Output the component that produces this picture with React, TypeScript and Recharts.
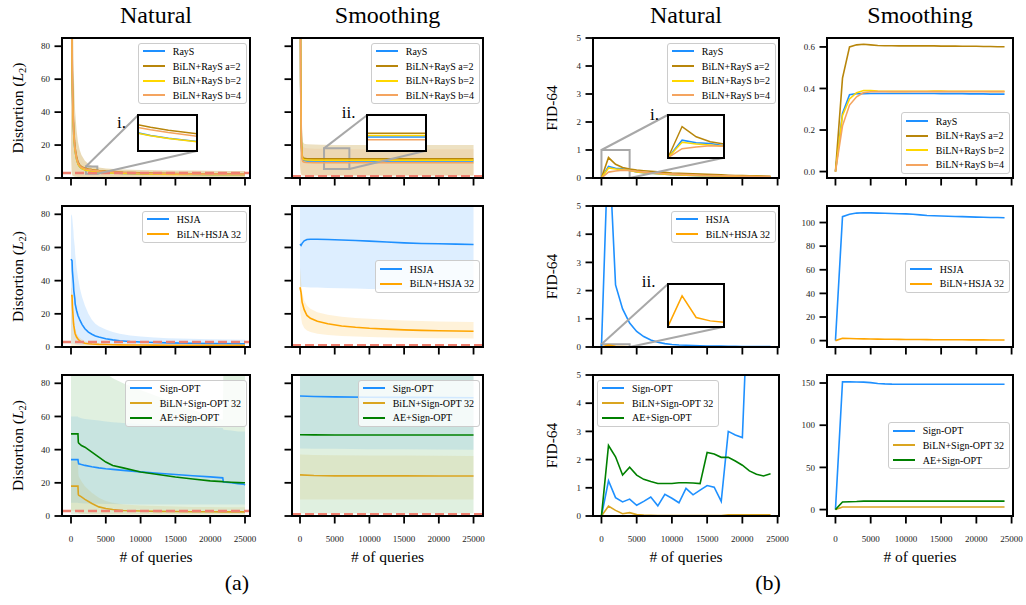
import React from "react";
import {
  ComposedChart,
  Line,
  Area,
  XAxis,
  YAxis,
  ReferenceLine,
  ReferenceArea,
} from "recharts";

const SERIF = '"Liberation Serif", "Times New Roman", Times, serif';

const BLUE = "#1e90ff";
const DARK_GOLD = "#b8860b";
const GOLD = "#ffd700";
const SANDY = "#f4a460";
const ORANGE = "#ffa500";
const GOLDENROD = "#daa520";
const GREEN = "#008000";
const THRESHOLD = "#f08070";

// ---------------- shared ticks ----------------
const queryTicks = [0, 5000, 10000, 15000, 20000, 25000];
const distTicks = [0, 20, 40, 60, 80];
const fidTicks = [0, 1, 2, 3, 4, 5];

// ---------------- (a) distortion: RayS, natural ----------------
const raysNatQ = [0, 100, 200, 300, 400, 500, 600, 800, 1000, 1250, 1500, 2000, 2500, 3000, 4000, 5000, 7500, 10000, 12500, 15000, 17500, 20000, 22500, 25000];
const raysNat = [160, 95, 55, 36, 26, 20, 16, 11.5, 8.5, 6.9, 5.9, 4.95, 4.5, 4.15, 3.65, 3.3, 2.8, 2.5, 2.35, 2.25, 2.15, 2.05, 2.0, 1.95];
const bilnA2Nat = [175, 105, 61, 40, 29, 22.5, 18, 13, 9.7, 7.9, 6.9, 5.95, 5.5, 5.15, 4.6, 4.2, 3.5, 3.1, 2.85, 2.7, 2.55, 2.45, 2.35, 2.3];
const bilnB2Nat = [158, 94, 54, 35.5, 25.7, 19.8, 15.8, 11.3, 8.4, 6.8, 5.85, 4.9, 4.47, 4.12, 3.62, 3.28, 2.78, 2.48, 2.33, 2.23, 2.13, 2.03, 1.98, 1.93];
const bilnB4Nat = [170, 100, 58, 38, 27.5, 21.3, 17, 12.3, 9.2, 7.5, 6.5, 5.6, 5.2, 4.85, 4.3, 3.9, 3.3, 2.9, 2.7, 2.55, 2.45, 2.35, 2.25, 2.2];
const bilnA2NatHi = [300, 200, 130, 90, 65, 50, 40, 29, 22, 17, 14, 10.5, 8.5, 7.5, 6.3, 5.8, 5.2, 4.9, 4.7, 4.6, 4.5, 4.4, 4.3, 4.3];
const bilnA2NatLo = [15, 3, 1.5, 1.2, 1, 0.9, 0.8, 0.7, 0.6, 0.6, 0.5, 0.5, 0.5, 0.5, 0.5, 0.5, 0.5, 0.5, 0.5, 0.5, 0.5, 0.5, 0.5, 0.5];

// ---------------- (a) distortion: RayS, smoothing ----------------
const raysSmQ = [0, 100, 200, 300, 400, 600, 1000, 2000, 3000, 5000, 7500, 10000, 15000, 20000, 25000];
const raysSm = [170, 55, 20, 12.6, 11.1, 10.6, 10.4, 10.3, 10.3, 10.3, 10.3, 10.3, 10.3, 10.3, 10.3];
const bilnA2Sm = [180, 60, 22, 14, 12.4, 11.9, 11.7, 11.6, 11.6, 11.6, 11.6, 11.6, 11.6, 11.6, 11.6];
const bilnB2Sm = [175, 57, 21, 13.2, 11.6, 11.1, 10.9, 10.8, 10.8, 10.8, 10.8, 10.8, 10.8, 10.8, 10.8];
const bilnB4Sm = [165, 52, 19, 11.6, 10.1, 9.6, 9.4, 9.3, 9.3, 9.3, 9.3, 9.3, 9.3, 9.3, 9.3];
const bilnA2SmHi = [300, 150, 50, 26, 22, 20.8, 20.5, 20.3, 20.2, 20.1, 20, 20, 20, 20, 20];
const bilnA2SmLo = [8, 3, 2, 1.8, 1.6, 1.5, 1.5, 1.5, 1.5, 1.5, 1.5, 1.5, 1.5, 1.5, 1.5];
const bilnB4SmHi = [280, 140, 45, 23, 19.5, 18.3, 18, 17.8, 17.7, 17.6, 17.5, 17.5, 17.5, 17.5, 17.5];
const bilnB4SmLo = [6, 2.5, 1.5, 1.2, 1, 1, 1, 1, 1, 1, 1, 1, 1, 1, 1];

// ---------------- (a) distortion: HSJA, natural ----------------
const hsjaNatQ = [0, 150, 200, 350, 400, 550, 600, 800, 1000, 1300, 1600, 2000, 2500, 3000, 3500, 4000, 5000, 6000, 7000, 8500, 10000, 12000, 14000, 17000, 20000, 25000];
const hsjaNat = [53, 52, 46, 38, 34, 29, 26, 22, 19, 16, 13.5, 11, 9, 7.7, 6.7, 6, 5, 4.3, 3.8, 3.3, 3, 2.7, 2.5, 2.3, 2.1, 2.0];
const bilnHsjaNat = [31, 31, 25, 15, 13, 9, 8, 6, 4.8, 3.5, 2.9, 2.3, 2, 1.8, 1.7, 1.6, 1.5, 1.4, 1.3, 1.25, 1.2, 1.15, 1.1, 1.05, 1.0, 1.0];
const hsjaNatHi = [80, 79, 77, 70, 66, 60, 56, 48, 42, 35, 30, 25, 20, 16.5, 14, 12.5, 10.5, 9, 8, 7, 6.3, 5.7, 5.3, 4.9, 4.6, 4.4];
const hsjaNatLo = [2, 2, 2, 2, 1.8, 1.6, 1.5, 1.3, 1.2, 1.1, 1, 1, 1, 1, 1, 1, 1, 1, 1, 1, 1, 1, 1, 1, 1, 1];
const bilnHsjaNatHi = [36, 35, 30, 20, 17, 12, 11, 8.5, 7, 5.5, 4.5, 3.6, 3, 2.7, 2.5, 2.3, 2.1, 2, 1.9, 1.8, 1.7, 1.6, 1.55, 1.5, 1.5, 1.5];
const bilnHsjaNatLo = [0.3, 0.3, 0.3, 0.3, 0.3, 0.3, 0.3, 0.3, 0.3, 0.3, 0.3, 0.3, 0.3, 0.3, 0.3, 0.3, 0.3, 0.3, 0.3, 0.3, 0.3, 0.3, 0.3, 0.3, 0.3, 0.3];

// ---------------- (a) distortion: HSJA, smoothing ----------------
const hsjaSmQ = [0, 150, 300, 600, 1000, 1500, 2500, 4000, 6000, 8000, 10000, 12500, 15000, 17500, 20000, 22500, 25000];
const hsjaSm = [62, 61.3, 62.5, 64, 64.8, 65, 65, 64.8, 64.5, 64.2, 63.8, 63.3, 62.8, 62.4, 62.2, 62, 61.8];
const bilnHsjaSm = [36, 33, 27, 22.5, 19, 17.3, 15.5, 14, 12.7, 11.9, 11.3, 10.8, 10.3, 10, 9.8, 9.6, 9.5];
const hsjaSmHi = [120, 120, 120, 120, 120, 120, 120, 120, 120, 120, 120, 120, 120, 120, 120, 120, 120];
const hsjaSmLo = [36.3, 36.3, 36.2, 36.1, 36, 35.9, 35.8, 35.6, 35.4, 35.2, 35, 34.8, 34.6, 34.4, 34.2, 34.1, 34];
const bilnHsjaSmHi = [48, 40, 33, 28, 25, 23, 21, 19.5, 18.3, 17.5, 17, 16.5, 16, 15.7, 15.4, 15.2, 15];
const bilnHsjaSmLo = [22, 18, 14, 11.5, 10, 9, 8, 7.2, 6.7, 6.3, 6, 5.8, 5.6, 5.4, 5.3, 5.2, 5.1];

// ---------------- (a) distortion: Sign-OPT, natural ----------------
const signNatQ = [0, 1000, 1050, 1100, 1500, 2000, 3000, 4000, 5000, 6000, 7500, 10000, 12500, 15000, 17500, 20000, 21800, 21900, 23000, 24000, 24800, 25000];
const signNat = [34, 34, 32.5, 31.5, 31, 30.5, 29.7, 29, 28.5, 28.1, 27.5, 26.6, 25.8, 25, 24.3, 23.6, 23, 20.5, 20, 19.5, 19.2, 18.7];
const bilnSignNat = [18, 18, 13, 12.5, 11.5, 10, 7.5, 5.5, 4.5, 3.9, 3.3, 3, 2.8, 2.7, 2.6, 2.55, 2.5, 2.5, 2.5, 2.5, 2.5, 2.5];
const aeSignNat = [49.5, 49.5, 44.5, 44, 42.5, 41.5, 38.5, 35.5, 32.5, 30.5, 29, 26.5, 25, 23.5, 22.3, 21.2, 20.7, 20.6, 20.3, 20.1, 20, 20];
const signNatHi = [60, 60, 59.5, 59.5, 59, 58.5, 58, 57.5, 57, 56.5, 56, 55.5, 55, 54.5, 54, 53.5, 53, 52, 51.5, 51, 51, 51];
const signNatLo = [8, 8, 7.8, 7.8, 7.7, 7.6, 7.5, 7.4, 7.3, 7.2, 7.1, 7, 7, 7, 7, 7, 7, 7, 7, 7, 7, 7];
const bilnSignNatHi = [33, 33, 26, 24, 21, 18, 14, 11, 9, 8, 7, 6.3, 6, 5.7, 5.5, 5.4, 5.3, 5.3, 5.3, 5.3, 5.3, 5.3];
const bilnSignNatLo = [3, 3, 2, 1.5, 1.2, 1, 0.8, 0.6, 0.5, 0.5, 0.5, 0.5, 0.5, 0.5, 0.5, 0.5, 0.5, 0.5, 0.5, 0.5, 0.5, 0.5];
const aeSignNatHi = [100, 100, 100, 100, 100, 100, 95, 90, 86, 83, 80, 76, 72, 68, 64, 60, 58, 90, 90, 90, 90, 90];
const aeSignNatLo = [1, 1, 1, 1, 1, 1, 1, 1, 1, 1, 1, 1, 1, 1, 1, 1, 1, 1, 1, 1, 1, 1];

// ---------------- (a) distortion: Sign-OPT, smoothing ----------------
const signSmQ = [0, 2000, 5000, 10000, 15000, 20000, 25000];
const signSm = [72.3, 72, 71.8, 71.6, 71.5, 71.4, 71.3];
const bilnSignSm = [24.8, 24.4, 24.2, 24.2, 24.2, 24.1, 24.1];
const aeSignSm = [49, 48.9, 48.8, 48.8, 48.8, 48.8, 48.8];
const signSmHi = [120, 120, 120, 120, 120, 120, 120];
const signSmLo = [40.7, 40.6, 40.5, 40.3, 40.2, 40.1, 40];
const bilnSignSmHi = [37, 36.8, 36.6, 36.5, 36.4, 36.3, 36.2];
const bilnSignSmLo = [10, 10, 10, 10, 10, 10, 10];
const aeSignSmHi = [120, 120, 120, 120, 120, 120, 120];
const aeSignSmLo = [1.5, 1.5, 1.5, 1.5, 1.5, 1.5, 1.5];

// ---------------- (b) FID-64, evaluated every 1000 queries ----------------
const fidQ = [0, 1000, 2000, 3000, 4000, 5000, 6000, 7000, 8000, 9000, 10000, 11000, 12000, 13000, 14000, 15000, 16000, 17000, 18000, 19000, 20000, 21000, 22000, 23000, 24000];

const fidRaysNat = [0, 0.41, 0.35, 0.33, 0.28, 0.22, 0.19, 0.17, 0.15, 0.14, 0.12, 0.11, 0.1, 0.09, 0.085, 0.08, 0.075, 0.07, 0.065, 0.06, 0.055, 0.05, 0.05, 0.045, 0.045];
const fidA2Nat = [0, 0.73, 0.49, 0.375, 0.32, 0.28, 0.26, 0.24, 0.22, 0.2, 0.18, 0.17, 0.16, 0.15, 0.14, 0.13, 0.12, 0.11, 0.1, 0.09, 0.085, 0.08, 0.075, 0.07, 0.065];
const fidB2Nat = [0, 0.36, 0.32, 0.3, 0.27, 0.22, 0.19, 0.17, 0.15, 0.14, 0.12, 0.11, 0.1, 0.09, 0.085, 0.08, 0.075, 0.07, 0.065, 0.06, 0.055, 0.05, 0.05, 0.045, 0.045];
const fidB4Nat = [0, 0.21, 0.25, 0.28, 0.27, 0.24, 0.21, 0.19, 0.17, 0.15, 0.14, 0.13, 0.12, 0.11, 0.1, 0.09, 0.085, 0.08, 0.075, 0.07, 0.065, 0.06, 0.055, 0.05, 0.05];

const fidRaysSm = [0, 0.28, 0.37, 0.375, 0.375, 0.376, 0.376, 0.376, 0.376, 0.376, 0.376, 0.376, 0.376, 0.376, 0.376, 0.375, 0.375, 0.375, 0.375, 0.374, 0.374, 0.374, 0.373, 0.373, 0.373];
const fidA2Sm = [0, 0.45, 0.6, 0.61, 0.613, 0.61, 0.607, 0.606, 0.606, 0.605, 0.605, 0.606, 0.605, 0.605, 0.605, 0.604, 0.604, 0.604, 0.603, 0.603, 0.603, 0.602, 0.602, 0.601, 0.601];
const fidB2Sm = [0, 0.27, 0.35, 0.38, 0.39, 0.39, 0.388, 0.387, 0.386, 0.386, 0.386, 0.387, 0.387, 0.387, 0.388, 0.388, 0.387, 0.387, 0.387, 0.387, 0.387, 0.387, 0.386, 0.386, 0.386];
const fidB4Sm = [0, 0.22, 0.32, 0.36, 0.38, 0.384, 0.385, 0.385, 0.385, 0.385, 0.385, 0.385, 0.385, 0.385, 0.385, 0.385, 0.385, 0.385, 0.385, 0.385, 0.385, 0.385, 0.385, 0.385, 0.385];

const fidHsjaNat = [0, 7.5, 2.2, 1.35, 0.85, 0.55, 0.37, 0.25, 0.17, 0.12, 0.09, 0.07, 0.06, 0.05, 0.04, 0.035, 0.03, 0.03, 0.025, 0.025, 0.02, 0.02, 0.02, 0.02, 0.02];
const fidBilnHsjaNat = [0, 0.072, 0.021, 0.013, 0.0095, 0.008, 0.007, 0.007, 0.006, 0.006, 0.005, 0.005, 0.005, 0.004, 0.004, 0.004, 0.004, 0.004, 0.004, 0.004, 0.004, 0.004, 0.004, 0.004, 0.004];
const fidHsjaSm = [0, 105, 107, 108, 108.3, 108.2, 108, 107.8, 107.7, 107.5, 107.3, 107, 106.5, 106, 105.8, 105.5, 105.3, 105.1, 105, 104.8, 104.6, 104.5, 104.3, 104.2, 104];
const fidBilnHsjaSm = [0, 2, 1.8, 1.6, 1.5, 1.4, 1.3, 1.2, 1.1, 1.05, 1.0, 0.95, 0.9, 0.85, 0.8, 0.8, 0.75, 0.7, 0.7, 0.65, 0.6, 0.6, 0.55, 0.55, 0.5];

const fidSignNat = [0, 1.25, 0.65, 0.5, 0.6, 0.38, 0.52, 0.67, 0.36, 0.77, 0.63, 0.47, 0.98, 0.75, 0.92, 1.08, 1.02, 0.52, 3.0, 2.87, 2.78, 9, 10, 11, 12];
const fidBilnSignNat = [0, 0.35, 0.2, 0.08, 0.12, 0.05, 0.03, 0.025, 0.02, 0.02, 0.02, 0.02, 0.02, 0.02, 0.02, 0.02, 0.02, 0.02, 0.04, 0.04, 0.04, 0.04, 0.04, 0.04, 0.04];
const fidAeSignNat = [0, 2.5, 2.1, 1.45, 1.73, 1.45, 1.3, 1.22, 1.15, 1.15, 1.15, 1.18, 1.18, 1.17, 1.15, 2.25, 2.2, 2.08, 2.08, 1.95, 1.8, 1.6, 1.48, 1.42, 1.5];
const fidSignSm = [0, 151.5, 151.3, 151.2, 151, 150.5, 149.5, 149, 148.7, 148.6, 148.5, 148.5, 148.5, 148.5, 148.5, 148.5, 148.5, 148.5, 148.5, 148.5, 148.5, 148.5, 148.5, 148.5, 148.5];
const fidBilnSignSm = [0, 3, 3, 3, 3, 3, 3, 3, 3, 3, 3, 3, 3, 3, 3, 3, 3, 3, 3, 3, 3, 3, 3, 3, 3];
const fidAeSignSm = [0, 9, 9.2, 9.5, 10, 10, 10, 10, 10, 10, 10, 10, 10, 10, 10, 10, 10, 10, 10, 10, 10, 10, 10, 10, 10];

// ---------------- panel description ----------------
type Series = { key: string; name: string; color: string; values: number[] };
type Band = { key: string; color: string; opacity: number; lo: number[]; hi: number[] };
type Inset = {
  box: [number, number, number, number]; // left, top, width, height from the frame corner
  x: [number, number];
  y: [number, number];
  label: string;
  labelAt: [number, number]; // baseline position from the frame corner
};
type PanelSpec = {
  id: string;
  frame: [number, number, number, number]; // left, top, right, bottom (px)
  xDomain: [number, number];
  yDomain: [number, number];
  yTicks: number[];
  yLabels: boolean;
  xLabels: boolean;
  yFmt?: (v: number) => string;
  q: number[];
  series: Series[];
  bands?: Band[];
  threshold?: number;
  legend: "ur" | "cr" | "lr" | "ul";
  inset?: Inset;
};

const COL_A1: [number, number] = [62, 250];
const COL_A2: [number, number] = [292, 483];
const COL_B1: [number, number] = [593, 779];
const COL_B2: [number, number] = [827, 1013];
const ROW1: [number, number] = [38, 178];
const ROW2: [number, number] = [206, 347];
const ROW3: [number, number] = [375, 516];
const frame = (c: [number, number], r: [number, number]): [number, number, number, number] => [c[0], r[0], c[1], r[1]];

const X_A1: [number, number] = [-1293, 25718];
const X_A2: [number, number] = [-1154, 26364];
const X_B: [number, number] = [-1200, 25200];
const Y_DIST: [number, number] = [0, 85];
const Y_FID: [number, number] = [0, 5];

const raysSeries = (rays: number[], a2: number[], b2: number[], b4: number[]): Series[] => [
  { key: "rays", name: "RayS", color: BLUE, values: rays },
  { key: "a2", name: "BiLN+RayS a=2", color: DARK_GOLD, values: a2 },
  { key: "b2", name: "BiLN+RayS b=2", color: GOLD, values: b2 },
  { key: "b4", name: "BiLN+RayS b=4", color: SANDY, values: b4 },
];
const hsjaSeries = (hsja: number[], biln: number[]): Series[] => [
  { key: "hsja", name: "HSJA", color: BLUE, values: hsja },
  { key: "biln", name: "BiLN+HSJA 32", color: ORANGE, values: biln },
];
const signSeries = (sign: number[], biln: number[], ae: number[]): Series[] => [
  { key: "sign", name: "Sign-OPT", color: BLUE, values: sign },
  { key: "biln", name: "BiLN+Sign-OPT 32", color: GOLDENROD, values: biln },
  { key: "ae", name: "AE+Sign-OPT", color: GREEN, values: ae },
];

const panels: PanelSpec[] = [
  {
    id: "dist-rays-nat", frame: frame(COL_A1, ROW1), xDomain: X_A1, yDomain: Y_DIST, yTicks: distTicks,
    yLabels: true, xLabels: false, q: raysNatQ,
    series: raysSeries(raysNat, bilnA2Nat, bilnB2Nat, bilnB4Nat),
    bands: [{ key: "bandA2", color: DARK_GOLD, opacity: 0.3, lo: bilnA2NatLo, hi: bilnA2NatHi }],
    threshold: 3, legend: "ur",
    inset: { box: [76.3, 77, 58.4, 36], x: [2150, 3780], y: [2.6, 7.0], label: "i.", labelAt: [55, 90.5] },
  },
  {
    id: "dist-rays-sm", frame: frame(COL_A2, ROW1), xDomain: X_A2, yDomain: Y_DIST, yTicks: distTicks,
    yLabels: false, xLabels: false, q: raysSmQ,
    series: raysSeries(raysSm, bilnA2Sm, bilnB2Sm, bilnB4Sm),
    bands: [
      { key: "bandA2", color: DARK_GOLD, opacity: 0.25, lo: bilnA2SmLo, hi: bilnA2SmHi },
      { key: "bandB4", color: SANDY, opacity: 0.15, lo: bilnB4SmLo, hi: bilnB4SmHi },
    ],
    threshold: 1, legend: "ur",
    inset: { box: [75.3, 77, 58.4, 35.7], x: [3460, 7110], y: [5.5, 18], label: "ii.", labelAt: [49.7, 81.3] },
  },
  {
    id: "fid-rays-nat", frame: frame(COL_B1, ROW1), xDomain: X_B, yDomain: Y_FID, yTicks: fidTicks,
    yLabels: true, xLabels: false, q: fidQ,
    series: raysSeries(fidRaysNat, fidA2Nat, fidB2Nat, fidB4Nat),
    legend: "ur",
    inset: { box: [74.7, 77, 56.3, 42.7], x: [0, 4000], y: [0, 1], label: "i.", labelAt: [57, 82.5] },
  },
  {
    id: "fid-rays-sm", frame: frame(COL_B2, ROW1), xDomain: X_B, yDomain: [-0.031, 0.643], yTicks: [0, 0.2, 0.4, 0.6],
    yLabels: true, xLabels: false, yFmt: (v) => v.toFixed(1), q: fidQ,
    series: raysSeries(fidRaysSm, fidA2Sm, fidB2Sm, fidB4Sm),
    legend: "lr",
  },
  {
    id: "dist-hsja-nat", frame: frame(COL_A1, ROW2), xDomain: X_A1, yDomain: Y_DIST, yTicks: distTicks,
    yLabels: true, xLabels: false, q: hsjaNatQ,
    series: hsjaSeries(hsjaNat, bilnHsjaNat),
    bands: [
      { key: "bandH", color: BLUE, opacity: 0.15, lo: hsjaNatLo, hi: hsjaNatHi },
      { key: "bandB", color: ORANGE, opacity: 0.15, lo: bilnHsjaNatLo, hi: bilnHsjaNatHi },
    ],
    threshold: 3, legend: "ur",
  },
  {
    id: "dist-hsja-sm", frame: frame(COL_A2, ROW2), xDomain: X_A2, yDomain: Y_DIST, yTicks: distTicks,
    yLabels: false, xLabels: false, q: hsjaSmQ,
    series: hsjaSeries(hsjaSm, bilnHsjaSm),
    bands: [
      { key: "bandH", color: BLUE, opacity: 0.15, lo: hsjaSmLo, hi: hsjaSmHi },
      { key: "bandB", color: ORANGE, opacity: 0.15, lo: bilnHsjaSmLo, hi: bilnHsjaSmHi },
    ],
    threshold: 1, legend: "cr",
  },
  {
    id: "fid-hsja-nat", frame: frame(COL_B1, ROW2), xDomain: X_B, yDomain: Y_FID, yTicks: fidTicks,
    yLabels: true, xLabels: false, q: fidQ,
    series: hsjaSeries(fidHsjaNat, fidBilnHsjaNat),
    legend: "ur",
    inset: { box: [74.7, 78.3, 56.3, 42.4], x: [0, 4000], y: [0, 0.1], label: "ii.", labelAt: [48.7, 82] },
  },
  {
    id: "fid-hsja-sm", frame: frame(COL_B2, ROW2), xDomain: X_B, yDomain: [-5.4, 114], yTicks: [0, 20, 40, 60, 80, 100],
    yLabels: true, xLabels: false, q: fidQ,
    series: hsjaSeries(fidHsjaSm, fidBilnHsjaSm),
    legend: "cr",
  },
  {
    id: "dist-sign-nat", frame: frame(COL_A1, ROW3), xDomain: X_A1, yDomain: Y_DIST, yTicks: distTicks,
    yLabels: true, xLabels: true, q: signNatQ,
    series: signSeries(signNat, bilnSignNat, aeSignNat),
    bands: [
      { key: "bandS", color: BLUE, opacity: 0.12, lo: signNatLo, hi: signNatHi },
      { key: "bandB", color: GOLDENROD, opacity: 0.12, lo: bilnSignNatLo, hi: bilnSignNatHi },
      { key: "bandA", color: GREEN, opacity: 0.12, lo: aeSignNatLo, hi: aeSignNatHi },
    ],
    threshold: 3, legend: "ur",
  },
  {
    id: "dist-sign-sm", frame: frame(COL_A2, ROW3), xDomain: X_A2, yDomain: Y_DIST, yTicks: distTicks,
    yLabels: false, xLabels: true, q: signSmQ,
    series: signSeries(signSm, bilnSignSm, aeSignSm),
    bands: [
      { key: "bandS", color: BLUE, opacity: 0.12, lo: signSmLo, hi: signSmHi },
      { key: "bandB", color: GOLDENROD, opacity: 0.12, lo: bilnSignSmLo, hi: bilnSignSmHi },
      { key: "bandA", color: GREEN, opacity: 0.12, lo: aeSignSmLo, hi: aeSignSmHi },
    ],
    threshold: 1, legend: "ur",
  },
  {
    id: "fid-sign-nat", frame: frame(COL_B1, ROW3), xDomain: X_B, yDomain: Y_FID, yTicks: fidTicks,
    yLabels: true, xLabels: true, q: fidQ,
    series: signSeries(fidSignNat, fidBilnSignNat, fidAeSignNat),
    legend: "ul",
  },
  {
    id: "fid-sign-sm", frame: frame(COL_B2, ROW3), xDomain: X_B, yDomain: [-7.6, 159.5], yTicks: [0, 50, 100, 150],
    yLabels: true, xLabels: true, q: fidQ,
    series: signSeries(fidSignSm, fidBilnSignSm, fidAeSignSm),
    legend: "cr",
  },
];

// ---------------- drawing ----------------
const PAD_L = 44;
const PAD_R = 12;
const PAD_T = 6;
const PAD_B = 34;
const TICK_STYLE = { fontSize: 9, fill: "#222", fontFamily: SERIF };
const TICK_LINE = { stroke: "#000", strokeWidth: 1.8 };

function buildRows(p: PanelSpec) {
  return p.q.map((q, i) => {
    const row: Record<string, number | number[]> = { q };
    p.series.forEach((s) => (row[s.key] = s.values[i]));
    (p.bands || []).forEach((b) => (row[b.key] = [b.lo[i], b.hi[i]]));
    return row;
  });
}

function InsetView({ p, rows }: { p: PanelSpec; rows: Record<string, number | number[]>[] }) {
  const ins = p.inset!;
  const [bx, by, bw, bh] = ins.box;
  return (
    <div style={{ position: "absolute", left: p.frame[0] + bx, top: p.frame[1] + by, width: bw, height: bh, background: "#fff" }}>
      <ComposedChart width={bw} height={bh} data={rows} margin={{ top: 0, right: 0, left: 0, bottom: 0 }}>
        <XAxis dataKey="q" type="number" domain={ins.x} allowDataOverflow hide />
        <YAxis type="number" domain={ins.y} allowDataOverflow hide />
        {p.series.map((s) => (
          <Line key={s.key} dataKey={s.key} type="linear" stroke={s.color} strokeWidth={1.5} dot={false} isAnimationActive={false} />
        ))}
      </ComposedChart>
      <div style={{ position: "absolute", left: -1, top: -1, width: bw + 2, height: bh + 2, border: "2px solid #000", boxSizing: "border-box" }} />
    </div>
  );
}

function LegendBox({ p }: { p: PanelSpec }) {
  const [l, t, r, b] = p.frame;
  const boxH = 18 + 14.6 * (p.series.length - 1);
  const style: React.CSSProperties = {
    position: "absolute",
    height: boxH,
    boxSizing: "border-box",
    border: "1px solid #cccccc",
    borderRadius: 3,
    background: "rgba(255,255,255,0.8)",
    padding: "0.7px 5px 0 4px",
    fontFamily: SERIF,
    fontSize: 10,
    color: "#000",
    whiteSpace: "nowrap",
  };
  if (p.legend === "ul") style.left = l + 4;
  else style.right = 1026 - r + 3;
  if (p.legend === "cr") style.top = t + (b - t - boxH) / 2;
  else if (p.legend === "lr") style.top = b - 4 - boxH;
  else style.top = t + 4.5;
  return (
    <div style={style}>
      {p.series.map((s) => (
        <div key={s.key} style={{ display: "flex", alignItems: "center", height: 14.6 }}>
          <svg width={22} height={4} style={{ marginRight: 8, flex: "none" }}>
            <line x1={0} x2={22} y1={2} y2={2} stroke={s.color} strokeWidth={2} />
          </svg>
          <span>{s.name}</span>
        </div>
      ))}
    </div>
  );
}

function Panel({ p }: { p: PanelSpec }) {
  const [l, t, r, b] = p.frame;
  const w = r - l;
  const h = b - t;
  const rows = buildRows(p);
  const [x0, x1] = p.xDomain;
  const [y0, y1] = p.yDomain;
  // pixel offset inside the frame -> data value, used for the zoom connectors
  const dataX = (px: number) => x0 + (px / w) * (x1 - x0);
  const dataY = (py: number) => y1 - (py / h) * (y1 - y0);
  const ins = p.inset;

  return (
    <>
      <div style={{ position: "absolute", left: l - PAD_L, top: t - PAD_T }}>
        <ComposedChart
          width={w + PAD_L + PAD_R}
          height={h + PAD_T + PAD_B}
          data={rows}
          margin={{ top: PAD_T, right: PAD_R, left: 0, bottom: 0 }}
          style={{ fontFamily: SERIF, overflow: "visible" }}
        >
          <XAxis
            dataKey="q"
            type="number"
            domain={p.xDomain}
            ticks={queryTicks}
            interval={0}
            allowDataOverflow
            height={PAD_B}
            axisLine={false}
            stroke="#000"
            tickLine={TICK_LINE}
            tickSize={7.5}
            tickMargin={12}
            tick={TICK_STYLE}
            tickFormatter={(v: number) => (p.xLabels ? String(v) : "")}
          />
          <YAxis
            type="number"
            domain={p.yDomain}
            ticks={p.yTicks}
            interval={0}
            allowDataOverflow
            width={PAD_L}
            axisLine={false}
            stroke="#000"
            tickLine={TICK_LINE}
            tickSize={7.5}
            tickMargin={4.5}
            tick={TICK_STYLE}
            tickFormatter={(v: number) => (p.yLabels ? (p.yFmt ? p.yFmt(v) : String(v)) : "")}
          />
          {(p.bands || []).map((bd) => (
            <Area
              key={bd.key}
              dataKey={bd.key}
              type="linear"
              stroke="none"
              fill={bd.color}
              fillOpacity={bd.opacity}
              dot={false}
              activeDot={false}
              legendType="none"
              isAnimationActive={false}
            />
          ))}
          {ins && (
            <ReferenceArea
              x1={ins.x[0]}
              x2={ins.x[1]}
              y1={ins.y[0]}
              y2={ins.y[1]}
              fill="none"
              stroke="#a8a8a8"
              strokeWidth={2}
              ifOverflow="visible"
            />
          )}
          {p.series.map((s) => (
            <Line
              key={s.key}
              dataKey={s.key}
              name={s.name}
              type="linear"
              stroke={s.color}
              strokeWidth={1.6}
              dot={false}
              activeDot={false}
              isAnimationActive={false}
            />
          ))}
          {p.threshold !== undefined && (
            <ReferenceLine y={p.threshold} stroke={THRESHOLD} strokeWidth={2.5} strokeDasharray="9 4" />
          )}
          {ins && (
            <ReferenceLine
              segment={[
                { x: ins.x[0], y: ins.y[1] },
                { x: dataX(ins.box[0]), y: dataY(ins.box[1]) },
              ]}
              stroke="#a8a8a8"
              strokeWidth={2}
              ifOverflow="visible"
            />
          )}
          {ins && (
            <ReferenceLine
              segment={[
                { x: ins.x[1], y: ins.y[0] },
                { x: dataX(ins.box[0] + ins.box[2]), y: dataY(ins.box[1] + ins.box[3]) },
              ]}
              stroke="#a8a8a8"
              strokeWidth={2}
              ifOverflow="visible"
            />
          )}
        </ComposedChart>
      </div>
      {ins && <InsetView p={p} rows={rows} />}
      {ins && (
        <div
          style={{
            position: "absolute",
            left: l + ins.labelAt[0],
            top: t + ins.labelAt[1] - 15,
            fontFamily: SERIF,
            fontSize: 17,
            lineHeight: "17px",
            color: "#000",
          }}
        >
          {ins.label}
        </div>
      )}
      <div
        style={{
          position: "absolute",
          left: l - 1,
          top: t - 1,
          width: w + 2,
          height: h + 2,
          border: "2px solid #000",
          boxSizing: "border-box",
          pointerEvents: "none",
        }}
      />
      <LegendBox p={p} />
    </>
  );
}

function DistortionLabel({ cy }: { cy: number }) {
  return (
    <text transform={`translate(23,${cy}) rotate(-90)`} textAnchor="middle" fontSize={15.5}>
      Distortion (<tspan fontStyle="italic">L</tspan>
      <tspan dy={3} fontSize={10.5}>2</tspan>
      <tspan dy={-3}>)</tspan>
    </text>
  );
}

function FidLabel({ cy }: { cy: number }) {
  return (
    <text transform={`translate(557,${cy}) rotate(-90)`} textAnchor="middle" fontSize={15.5}>
      FID-64
    </text>
  );
}

function Captions() {
  const rows = [ROW1, ROW2, ROW3];
  const cols = [COL_A1, COL_A2, COL_B1, COL_B2];
  const titles = ["Natural", "Smoothing", "Natural", "Smoothing"];
  return (
    <svg width={1026} height={605} style={{ position: "absolute", left: 0, top: 0, pointerEvents: "none" }} fontFamily={SERIF} fill="#000">
      {cols.map((c, i) => (
        <text key={`t${i}`} x={(c[0] + c[1]) / 2} y={22.7} textAnchor="middle" fontSize={24}>
          {titles[i]}
        </text>
      ))}
      {cols.map((c, i) => (
        <text key={`x${i}`} x={(c[0] + c[1]) / 2} y={562} textAnchor="middle" fontSize={15.5}>
          # of queries
        </text>
      ))}
      {rows.map((r, i) => (
        <DistortionLabel key={`d${i}`} cy={(r[0] + r[1]) / 2} />
      ))}
      {rows.map((r, i) => (
        <FidLabel key={`f${i}`} cy={(r[0] + r[1]) / 2} />
      ))}
      <text x={237} y={590} textAnchor="middle" fontSize={22}>(a)</text>
      <text x={768} y={590} textAnchor="middle" fontSize={22}>(b)</text>
    </svg>
  );
}

export default function App() {
  return (
    <div
      style={{
        position: "absolute",
        left: 0,
        top: 0,
        width: 1026,
        height: 605,
        background: "#fff",
        overflow: "hidden",
        fontFamily: SERIF,
      }}
    >
      <Captions />
      {panels.map((p) => (
        <Panel key={p.id} p={p} />
      ))}
    </div>
  );
}
